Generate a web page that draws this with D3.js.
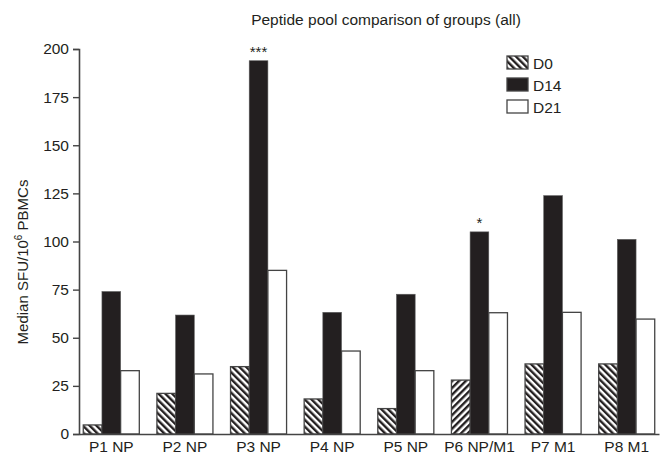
<!DOCTYPE html>
<html>
<head>
<meta charset="utf-8">
<script src="https://cdn.jsdelivr.net/npm/d3@7"></script>
<style>
  body { margin: 0; background: #fff; }
  svg { font-family: "Liberation Sans", Arial, sans-serif; }
</style>
</head>
<body>
<svg id="chart" width="665" height="455"></svg>
<script>
const pools = ["P1 NP", "P2 NP", "P3 NP", "P4 NP", "P5 NP", "P6 NP/M1", "P7 M1", "P8 M1"];
const days = ["D0", "D14", "D21"];
const d0 = [4.7, 21.1, 35, 18.2, 13.2, 28, 36.4, 36.4];
const d14 = [74, 61.8, 193.9, 63.2, 72.6, 105, 123.8, 101.1];
const d21 = [32.9, 31.2, 85, 43.1, 32.9, 63, 63.2, 59.7];
const yTicks = [0, 25, 50, 75, 100, 125, 150, 175, 200];
const stars = [{ pool: "P3 NP", day: "D14", text: "***" }, { pool: "P6 NP/M1", day: "D14", text: "*" }];

const series = { D0: d0, D14: d14, D21: d21 };
const FONT = 15.5;
const svg = d3.select('#chart');

// hatch patterns for D0
const defs = svg.append('defs');
function hatch(id, angle) {
    const p = defs.append('pattern')
        .attr('id', id)
        .attr('patternUnits', 'userSpaceOnUse')
        .attr('width', 4.8)
        .attr('height', 4.8)
        .attr('patternTransform', `rotate(${angle})`);
    p.append('rect').attr('width', 4.8).attr('height', 4.8).attr('fill', '#fff');
    p.append('rect').attr('width', 2.4).attr('height', 4.8).attr('fill', '#231f20');
}
hatch('hatchBack', -45);
hatch('hatchFwd', 45);

const x0 = d3.scaleBand().domain(pools).range([79, 659]).paddingInner(0.239).paddingOuter(0.058);
const x1 = d3.scaleBand().domain(days).range([0, x0.bandwidth()]);
const y = d3.scaleLinear().domain([0, 200]).range([434, 49]);

function fillFor(day, pool) {
    if (day === 'D0') return pool === 'P6 NP/M1' ? 'url(#hatchFwd)' : 'url(#hatchBack)';
    if (day === 'D14') return '#231f20';
    return '#fff';
}

// bars
const groups = svg.append('g').selectAll('g')
    .data(pools)
    .join('g')
    .attr('transform', d => `translate(${x0(d)},0)`);

groups.selectAll('rect')
    .data((p, i) => days.map(day => ({ pool: p, day: day, value: series[day][i] })))
    .join('rect')
    .attr('x', d => x1(d.day))
    .attr('y', d => y(d.value))
    .attr('width', x1.bandwidth())
    .attr('height', d => y(0) - y(d.value))
    .attr('fill', d => fillFor(d.day, d.pool))
    .attr('stroke', d => d.day === 'D14' ? '#5a5a5a' : '#444')
    .attr('stroke-width', d => d.day === 'D14' ? 0.6 : 1.3);

// significance stars
svg.append('g').selectAll('text')
    .data(stars)
    .join('text')
    .attr('x', d => x0(d.pool) + x1(d.day) + x1.bandwidth() / 2)
    .attr('y', d => y(series[d.day][pools.indexOf(d.pool)]) - 4)
    .attr('text-anchor', 'middle')
    .attr('font-size', 15)
    .attr('fill', '#231f20')
    .text(d => d.text);

// y axis
const yAxis = svg.append('g')
    .attr('transform', 'translate(79,0)')
    .call(d3.axisLeft(y).tickValues(yTicks).tickSize(6).tickPadding(4));
yAxis.select('.domain').attr('stroke', '#444').attr('stroke-width', 1.6);
yAxis.selectAll('.tick line').attr('stroke', '#444').attr('stroke-width', 1.4);
yAxis.selectAll('.tick text').attr('font-size', FONT).attr('fill', '#231f20')
    .attr('font-family', '"Liberation Sans", Arial, sans-serif');

// x axis
const xAxis = svg.append('g')
    .attr('transform', 'translate(0,434)')
    .call(d3.axisBottom(x0).tickSize(0).tickPadding(7).tickSizeOuter(0));
xAxis.select('.domain').attr('stroke', '#444').attr('stroke-width', 1.6);
xAxis.selectAll('.tick text').attr('font-size', FONT).attr('fill', '#231f20')
    .attr('font-family', '"Liberation Sans", Arial, sans-serif');

// y title
svg.append('text')
    .attr('transform', 'translate(28,262) rotate(-90)')
    .attr('text-anchor', 'middle')
    .attr('font-size', 15)
    .attr('fill', '#231f20')
    .html('Median SFU/10<tspan dy="-6" font-size="10">6</tspan><tspan dy="6"> PBMCs</tspan>');

// title
svg.append('text')
    .attr('x', 386)
    .attr('y', 25)
    .attr('text-anchor', 'middle')
    .attr('font-size', FONT)
    .attr('fill', '#231f20')
    .text('Peptide pool comparison of groups (all)');

// legend
const legend = svg.append('g').selectAll('g')
    .data(days)
    .join('g')
    .attr('transform', (d, i) => `translate(507,${56 + i * 22})`);
legend.append('rect')
    .attr('width', 21)
    .attr('height', 13)
    .attr('fill', d => fillFor(d, ''))
    .attr('stroke', '#444')
    .attr('stroke-width', 1.3);
legend.append('text')
    .attr('x', 26)
    .attr('y', 12.5)
    .attr('font-size', FONT)
    .attr('fill', '#231f20')
    .text(d => d);
</script>
</body>
</html>
